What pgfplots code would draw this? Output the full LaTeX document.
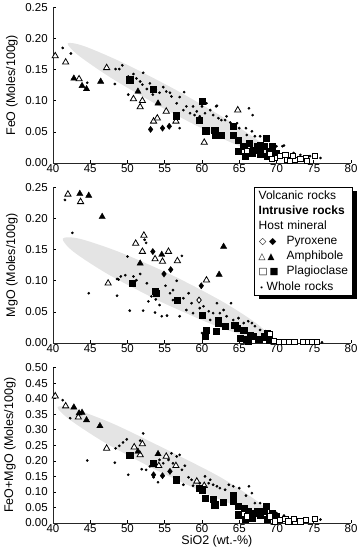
\documentclass[border=0pt]{standalone}
\usepackage{pgfplots}
\pgfplotsset{compat=1.18}
\usepackage{fontspec}
\setmainfont{Liberation Sans}
\newfontfamily\sym{DejaVu Sans}
\usetikzlibrary{shadows}
\definecolor{band}{HTML}{E4E4E4}
\pgfplotsset{
  myax/.style={scale only axis, width=298pt, height=155.5pt, xmin=40, xmax=80, ymin=0,
    axis x line=bottom, axis y line=left, axis line style={-, line width=0.9pt, black!85},
    tick align=inside, major tick length=2.5pt, tick style={line width=0.6pt, black},
    xtick={40,45,...,80},
    ticklabel style={font=\fontsize{11.5}{12}\selectfont},
    xticklabel style={inner sep=1pt},
    yticklabel style={xshift=-1.8pt, /pgf/number format/.cd, fixed, fixed zerofill, precision=2},
    /pgf/number format/assume math mode=true,
    clip=false, anchor=south west,
    label style={font=\fontsize{12.5}{13}\selectfont},
    ylabel style={at={(axis description cs:-0.1376,0.5)}, anchor=center}},
  dotm/.style={only marks, mark=*, mark size=1.15pt, mark options={fill=black, draw=black}},
  openT/.style={only marks, mark=triangle*, mark size=3.6pt, mark options={fill=white, draw=black, line width=0.8pt}},
  fillT/.style={only marks, mark=triangle*, mark size=3.6pt, mark options={fill=black, draw=black}},
  openS/.style={only marks, mark=square*, mark size=2.6pt, mark options={fill=white, draw=black, line width=0.8pt}},
  fillS/.style={only marks, mark=square*, mark size=3.1pt, mark options={fill=black, draw=black}},
  openD/.style={only marks, mark=diamond*, mark size=3pt, mark options={fill=white, draw=black, line width=0.8pt}},
  fillD/.style={only marks, mark=diamond*, mark size=3.1pt, mark options={fill=black, draw=black}},
  bandst/.style={fill=band, draw=none, smooth, no marks, forget plot},
}
\begin{document}
\begin{tikzpicture}
\path[use as bounding box] (0,0) rectangle (363pt,548pt);
% ---------------- Panel 1: FeO
\begin{axis}[myax, at={(53pt,385pt)}, ymax=0.25, ytick={0,0.05,0.10,0.15,0.20,0.25},
  ylabel={FeO (Moles/100g)}]
\addplot[bandst] coordinates {(55.05,0.0863) (48.24,0.1335) (43.48,0.1724) (41.97,0.1923) (44.17,0.1879) (49.48,0.1606) (56.47,0.1176) (63.28,0.0703) (68.04,0.0315) (69.54,0.0116) (67.34,0.0160) (62.04,0.0432) (55.05,0.0863)};
\addplot[dotm] coordinates {(41.3,0.185) (42.4,0.176) (44.6,0.129) (48.3,0.127) (48.4,0.151) (48.9,0.151) (49.3,0.157) (50.1,0.110) (50.1,0.139) (50.8,0.143) (51.2,0.136) (51.7,0.131) (52.1,0.145) (52.0,0.126) (52.6,0.119) (53.0,0.128) (53.4,0.110) (53.8,0.118) (54.3,0.113) (54.8,0.122) (55.2,0.115) (55.7,0.113) (55.9,0.107) (56.6,0.096) (57.0,0.106) (57.0,0.056) (57.6,0.114) (57.5,0.085) (57.9,0.091) (58.4,0.080) (58.8,0.091) (59.3,0.083) (59.7,0.075) (60.4,0.080) (61.1,0.085) (61.5,0.077) (61.9,0.091) (62.2,0.072) (62.6,0.069) (63.1,0.069) (63.8,0.065) (64.2,0.061) (65.0,0.056) (65.9,0.056) (66.3,0.088) (66.8,0.077) (66.0,0.045) (66.7,0.051) (67.1,0.043) (67.8,0.043) (70.0,0.027) (71.0,0.028) (72.3,0.016) (73.2,0.013) (74.5,0.011) (75.9,0.008) (60.0,0.091) (60.6,0.096) (59.0,0.077) (63.3,0.075) (64.7,0.064) (62.0,0.092) (70.8,0.027)};
\addplot[openT] coordinates {(40.3,0.172) (41.7,0.162) (43.5,0.135) (47.2,0.153) (50.8,0.103) (52.0,0.100) (51.7,0.090) (53.5,0.067) (54.0,0.072) (55.2,0.083) (56.5,0.067) (60.3,0.033) (64.8,0.085)};
\addplot[fillT] coordinates {(42.8,0.136) (43.9,0.124) (44.5,0.119) (46.4,0.131) (51.4,0.115) (54.1,0.096)};
\addplot[fillD] coordinates {(53.1,0.054) (54.7,0.056) (55.6,0.059)};
\addplot[fillS] coordinates {(50.3,0.134) (53.5,0.119) (56.5,0.076) (60.0,0.099) (59.6,0.069) (60.5,0.052) (61.7,0.053) (61.8,0.045) (62.6,0.045) (64.2,0.059) (64.2,0.045) (64.9,0.037) (64.9,0.019) (65.6,0.027) (65.8,0.011) (66.3,0.032) (66.9,0.021) (67.4,0.027) (67.8,0.015) (68.6,0.040) (68.3,0.027) (69.4,0.027) (68.7,0.011) (69.1,0.019) (70.0,0.016) (67.8,0.029) (66.7,0.016)};
\addplot[openS] coordinates {(66.0,0.019) (69.1,0.014) (69.8,0.008) (70.5,0.011) (71.2,0.013) (71.4,0.005) (71.8,0.004) (72.5,0.005) (72.2,0.011) (73.2,0.006) (73.9,0.008) (74.1,0.004) (75.2,0.012) (69.4,0.006)};
\end{axis}
% ---------------- Panel 2: MgO
\begin{axis}[myax, at={(53pt,205pt)}, ymax=0.25, ytick={0,0.05,0.10,0.15,0.20,0.25},
  ylabel={MgO (Moles/100g)}]
\addplot[bandst] coordinates {(54.30,0.0671) (47.49,0.1098) (42.74,0.1468) (41.31,0.1679) (43.58,0.1676) (48.95,0.1460) (56.00,0.1089) (62.80,0.0662) (67.56,0.0292) (68.99,0.0080) (66.71,0.0083) (61.34,0.0300) (54.30,0.0671)};
\addplot[dotm] coordinates {(41.6,0.230) (42.6,0.177) (44.8,0.080) (48.6,0.076) (48.6,0.103) (49.1,0.107) (50.0,0.139) (50.3,0.052) (50.8,0.107) (51.2,0.101) (52.1,0.052) (52.3,0.166) (52.6,0.096) (52.8,0.067) (53.2,0.075) (53.7,0.049) (54.3,0.061) (54.6,0.043) (55.1,0.092) (55.3,0.044) (55.7,0.080) (56.1,0.085) (56.1,0.069) (56.6,0.100) (57.0,0.043) (57.3,0.140) (57.5,0.072) (57.9,0.053) (58.2,0.080) (58.6,0.064) (58.8,0.048) (59.7,0.056) (60.0,0.016) (60.2,0.059) (60.9,0.051) (61.1,0.037) (61.5,0.048) (62.0,0.064) (62.4,0.048) (62.9,0.053) (63.3,0.043) (63.9,0.064) (64.2,0.037) (64.9,0.040) (65.6,0.032) (66.2,0.035) (66.7,0.032) (67.1,0.027) (67.8,0.021) (68.5,0.019) (69.6,0.005) (76.1,0.001) (53.8,0.070) (52.5,0.161) (48.8,0.102) (49.7,0.109) (51.7,0.111)};
\addplot[openT] coordinates {(42.0,0.239) (43.7,0.227) (47.4,0.096) (51.1,0.160) (52.2,0.173) (52.0,0.147) (53.7,0.135) (54.7,0.131) (55.5,0.147) (56.7,0.132) (60.6,0.101)};
\addplot[fillT] coordinates {(43.6,0.240) (44.8,0.237) (46.6,0.203) (51.7,0.128) (54.6,0.142) (62.3,0.110) (62.9,0.155)};
\addplot[fillD] coordinates {(53.4,0.147) (55.8,0.118) (54.9,0.111) (59.9,0.092)};
\addplot[openD] coordinates {(59.6,0.069)};
\addplot[fillS] coordinates {(50.6,0.096) (53.7,0.083) (53.9,0.080) (56.7,0.069) (60.0,0.045) (60.6,0.021) (60.4,0.011) (61.9,0.019) (62.2,0.037) (63.1,0.027) (64.4,0.029) (64.7,0.024) (65.6,0.021) (65.1,0.008) (66.0,0.006) (66.5,0.013) (66.9,0.011) (67.6,0.006) (68.3,0.010) (68.7,0.015) (69.0,0.005) (66.2,0.003) (62.2,0.032)};
\addplot[openS] coordinates {(69.1,0.015) (69.6,0.003) (70.3,0.002) (71.0,0.002) (71.7,0.002) (72.4,0.002) (73.6,0.002) (74.2,0.002) (74.8,0.002) (75.4,0.002)};
\end{axis}
\node[draw=black, line width=0.6pt, fill=white, anchor=north east, inner xsep=4pt, inner ysep=4pt,
  text width=90pt, align=left, font=\fontsize{12}{15}\selectfont,
  drop shadow={shadow xshift=4pt, shadow yshift=-4pt, opacity=1, fill=black}] at (353pt,361pt)
  {Volcanic rocks\\
   \textbf{Intrusive rocks}\\
   Host mineral\\
   \makebox[28pt][l]{\hspace{0.5pt}{\sym\fontsize{9.5}{9}\selectfont ◇\hspace{2.5pt}◆}}Pyroxene\\
   \makebox[28pt][l]{{\sym\fontsize{9}{9}\selectfont △\hspace{2pt}▲}}Amphibole\\
   \makebox[28pt][l]{{\sym\fontsize{9.5}{9}\selectfont □\hspace{2pt}■}}Plagioclase\\[1pt]
   \makebox[8pt][l]{\hspace{1pt}{\sym\fontsize{7}{6}\selectfont •}}Whole rocks};
% ---------------- Panel 3: FeO+MgO
\begin{axis}[myax, at={(53pt,25pt)}, ymax=0.5,
  ytick={0,0.05,0.10,0.15,0.20,0.25,0.30,0.35,0.40,0.45,0.50},
  ylabel={FeO+MgO (Moles/100g)}, ylabel style={at={(axis description cs:-0.145,0.5)}},
  xlabel={SiO2 (wt.-\%)}, xlabel style={at={(axis description cs:0.55,-0.078)}, anchor=north, inner sep=0pt}]
\addplot[bandst] coordinates {(54.11,0.1670) (47.10,0.2564) (42.16,0.3338) (40.60,0.3731) (42.85,0.3668) (48.30,0.3167) (55.49,0.2329) (62.50,0.1468) (67.44,0.0694) (69.00,0.0301) (66.75,0.0364) (61.30,0.0865) (54.11,0.1670)};
\addplot[dotm] coordinates {(41.3,0.395) (42.3,0.337) (44.6,0.201) (48.3,0.194) (48.4,0.240) (48.9,0.248) (49.4,0.259) (49.9,0.269) (50.1,0.155) (51.7,0.265) (52.1,0.288) (51.9,0.173) (52.5,0.171) (53.0,0.182) (53.5,0.147) (54.1,0.131) (54.3,0.203) (54.8,0.192) (55.5,0.203) (55.9,0.224) (56.1,0.192) (56.6,0.214) (57.0,0.219) (57.3,0.171) (57.5,0.123) (57.7,0.184) (58.2,0.147) (58.6,0.139) (58.8,0.120) (59.7,0.128) (60.4,0.150) (60.9,0.128) (61.1,0.139) (61.5,0.123) (62.0,0.118) (62.4,0.112) (63.1,0.107) (63.6,0.123) (64.2,0.118) (65.0,0.112) (65.9,0.088) (66.3,0.118) (66.7,0.096) (67.1,0.064) (67.8,0.064) (70.0,0.032) (71.0,0.024) (72.3,0.011) (75.9,0.011)};
\addplot[openT] coordinates {(40.3,0.408) (41.7,0.376) (43.4,0.340) (47.2,0.240) (50.9,0.244) (52.0,0.254) (51.7,0.219) (53.5,0.187) (54.2,0.184) (55.2,0.214) (56.5,0.184) (59.3,0.134) (60.3,0.120)};
\addplot[fillT] coordinates {(42.8,0.372) (43.5,0.353) (43.9,0.355) (44.5,0.331) (46.3,0.312) (51.4,0.230) (54.1,0.222)};
\addplot[fillD] coordinates {(53.5,0.155) (54.7,0.152) (55.7,0.166)};
\addplot[fillS] coordinates {(50.3,0.219) (53.5,0.192) (56.5,0.139) (59.6,0.112) (60.0,0.107) (60.4,0.080) (61.5,0.077) (61.7,0.059) (62.8,0.066) (64.2,0.088) (64.2,0.069) (64.9,0.053) (64.9,0.027) (65.7,0.048) (65.8,0.013) (66.2,0.037) (66.8,0.032) (67.4,0.037) (67.8,0.024) (68.6,0.053) (68.3,0.037) (69.4,0.032) (68.7,0.013) (69.1,0.021) (70.0,0.021) (66.7,0.016)};
\addplot[openS] coordinates {(66.0,0.021) (69.1,0.021) (69.8,0.005) (70.5,0.011) (71.2,0.013) (71.6,0.005) (72.5,0.005) (72.3,0.013) (73.2,0.005) (73.9,0.009) (75.2,0.013)};
\end{axis}
\end{tikzpicture}
\end{document}
